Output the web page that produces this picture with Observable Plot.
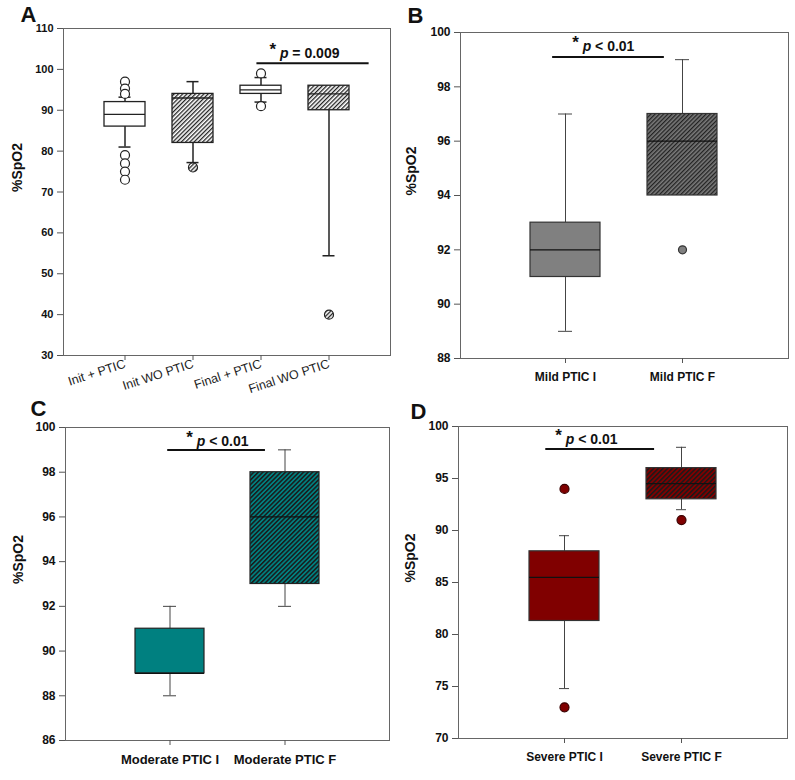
<!DOCTYPE html>
<html><head><meta charset="utf-8">
<script src="https://cdn.jsdelivr.net/npm/d3@7"></script>
<script src="https://cdn.jsdelivr.net/npm/@observablehq/plot@0.6"></script>
<style>
body{margin:0;background:#fff;}
#wrap{position:relative;width:795px;height:780px;background:#fff;}
#wrap svg{position:absolute;overflow:visible;}
</style></head><body><div id="wrap"></div>
<script>
// ---------- DATA ----------
// Panel A
const catsA = ["Init + PTIC", "Init WO PTIC", "Final + PTIC", "Final WO PTIC"];
const q1A  = [86, 82, 94, 90];
const medA = [89, 93, 95, 94];
const q3A  = [92, 94, 96, 96];
const loA  = [81, 77.2, 92, 54.4];
const hiA  = [93.2, 97, 98, 96];
const outA = [[97, 95.3, 94, 79, 77, 75, 73], [76], [99, 91], [40]];
const ticksA = [30, 40, 50, 60, 70, 80, 90, 100, 110];
// Panel B
const catsB = ["Mild PTIC I", "Mild PTIC F"];
const q1B  = [91, 94];
const medB = [92, 96];
const q3B  = [93, 97];
const loB  = [89, 94];
const hiB  = [97, 99];
const outB = [[], [92]];
const ticksB = [88, 90, 92, 94, 96, 98, 100];
// Panel C
const catsC = ["Moderate PTIC I", "Moderate PTIC F"];
const q1C  = [89, 93];
const medC = [89, 96];
const q3C  = [91, 98];
const loC  = [88, 92];
const hiC  = [92, 99];
const outC = [[], []];
const ticksC = [86, 88, 90, 92, 94, 96, 98, 100];
// Panel D
const catsD = ["Severe PTIC I", "Severe PTIC F"];
const q1D  = [81.3, 93];
const medD = [85.5, 94.5];
const q3D  = [88, 96];
const loD  = [74.8, 92];
const hiD  = [89.5, 98];
const outD = [[94, 73], [91]];
const ticksD = [70, 75, 80, 85, 90, 95, 100];
// significance annotations
const sigA = {from: "Final + PTIC", to: "Final WO PTIC", y: 101.4, f1: -0.06, f2: 0.59, op: "=", p: "0.009"};
const sigB = {from: "Mild PTIC I", to: "Mild PTIC F", y: 99.08, f1: -0.11, f2: -0.155, op: "<", p: "0.01"};
const sigC = {from: "Moderate PTIC I", to: "Moderate PTIC F", y: 98.97, f1: -0.02, f2: -0.17, op: "<", p: "0.01"};
const sigD = {from: "Severe PTIC I", to: "Severe PTIC F", y: 97.8, f1: -0.16, f2: -0.23, op: "<", p: "0.01"};

// ---------- HELPERS ----------
const FONT = "Arial, 'Liberation Sans', sans-serif";
function rowsOf(cats, q1, med, q3, lo, hi) {
  return cats.map((c, i) => ({c, q1: q1[i], med: med[i], q3: q3[i], lo: lo[i], hi: hi[i]}));
}
function outRows(cats, out) {
  return cats.flatMap((c, i) => out[i].map(v => ({c, v})));
}
function hatchDefs(id, bg, line, size, lw) {
  return () => {
    const d = d3.create("svg:defs");
    const p = d.append("pattern").attr("id", id).attr("patternUnits", "userSpaceOnUse")
      .attr("width", size).attr("height", size).attr("patternTransform", "rotate(45)");
    p.append("rect").attr("width", size).attr("height", size).attr("fill", bg);
    p.append("rect").attr("width", lw).attr("height", size).attr("fill", line);
    return d.node();
  };
}
function sigMark(s, o) {
  return (index, scales) => {
    const x = scales.x, y = scales.y;
    const bw = x.bandwidth ? x.bandwidth() : 0;
    const st = x.step ? x.step() : bw / 0.6;
    const x1 = x(s.from) + bw / 2 + s.f1 * st;
    const x2 = x(s.to) + bw / 2 + s.f2 * st;
    const yy = y(s.y);
    const g = d3.create("svg:g");
    g.append("line").attr("x1", x1).attr("x2", x2).attr("y1", yy).attr("y2", yy)
      .attr("stroke", "#111").attr("stroke-width", 2);
    const t = g.append("text").attr("x", x1 + o.tx).attr("y", yy - o.ty).attr("text-anchor", "start")
      .attr("font-family", FONT).attr("font-weight", "bold").attr("font-size", 14).attr("fill", "#111");
    t.append("tspan").attr("font-size", 17).attr("dy", -3).text("*");
    t.append("tspan").attr("dy", 3).text("\u00a0");
    t.append("tspan").attr("font-style", "italic").text("p");
    t.append("tspan").text(" " + s.op + " " + s.p);
    return g.node();
  };
}

function panel(o) {
  const rows = rowsOf(o.cats, o.q1, o.med, o.q3, o.lo, o.hi);
  const outs = outRows(o.cats, o.out);
  const marks = [
    ...o.defs,
    Plot.frame({stroke: "#666", strokeWidth: 1}),
    Plot.axisY({ticks: o.ticks, tickSize: 6, tickPadding: 4, label: null, tickFormat: d => d,
      fontSize: o.tickFont, fontWeight: "bold", fill: "#111", stroke: "#555"}),
    o.rotate
      ? Plot.axisX({tickSize: 5, tickPadding: 3, tickRotate: o.rotate, label: null, fontSize: 12.5, fill: "#222", stroke: "#555"})
      : Plot.axisX({tickSize: 5, tickPadding: 9, label: null, fontSize: o.xFont, fontWeight: "bold", fill: "#111", stroke: "#555"}),
    Plot.text([o.ylabel], {frameAnchor: "left", rotate: -90, dx: o.ylabDx, fontSize: 14, fontWeight: "bold", fill: "#111"}),
    Plot.text([o.letter], {frameAnchor: "top-left", dx: o.letDx, dy: o.letDy, fontSize: 22, fontWeight: "bold",
      textAnchor: "start", lineAnchor: "bottom", fill: "#111"}),
    // whiskers
    Plot.ruleX(rows.filter(r => r.hi > r.q3), {x: "c", y1: "q3", y2: "hi", stroke: o.whisker, strokeWidth: o.ww}),
    Plot.ruleX(rows.filter(r => r.lo < r.q1), {x: "c", y1: "lo", y2: "q1", stroke: o.whisker, strokeWidth: o.ww}),
    Plot.tickY(rows.filter(r => r.hi > r.q3), {x: "c", y: "hi", stroke: o.whisker, strokeWidth: o.ww, insetLeft: o.cap, insetRight: o.cap}),
    Plot.tickY(rows.filter(r => r.lo < r.q1), {x: "c", y: "lo", stroke: o.whisker, strokeWidth: o.ww, insetLeft: o.cap, insetRight: o.cap}),
    // boxes
    ...rows.map((r, i) => Plot.barY([r], {x: "c", y1: "q1", y2: "q3", fill: o.fills[i], stroke: o.boxStroke, strokeWidth: o.bw})),
    Plot.tickY(rows, {x: "c", y: "med", stroke: o.medStroke || o.boxStroke, strokeWidth: o.bw}),
    // outliers
    ...outs.map(r => Plot.dot([r], {x: "c", y: "v", r: o.r, fill: o.outFill[o.cats.indexOf(r.c)], stroke: o.outStroke, strokeWidth: 1.2})),
    sigMark(o.sig, o.sigOff)
  ];
  const svg = Plot.plot({
    width: o.width, height: 390,
    marginLeft: o.m[0], marginRight: o.m[1], marginTop: o.m[2], marginBottom: o.m[3],
    style: {fontFamily: FONT, background: "transparent", overflow: "visible"},
    x: {type: "band", domain: o.cats, paddingInner: 0.4, paddingOuter: 0.6},
    y: {domain: o.yDomain},
    marks
  });
  svg.style.left = o.left + "px";
  svg.style.top = o.top + "px";
  document.getElementById("wrap").appendChild(svg);
}

panel({
  cats: catsA, q1: q1A, med: medA, q3: q3A, lo: loA, hi: hiA, out: outA, ticks: ticksA, yDomain: [30, 110],
  width: 395, left: 0, top: 0, m: [63, 5, 28, 35], rotate: -18, tickFont: 11, xFont: 12,
  defs: [hatchDefs("hA", "#fff", "#222", 3, 1.3)],
  fills: ["#fff", "url(#hA)", "#fff", "url(#hA)"],
  outFill: ["#fff", "url(#hA)", "#fff", "url(#hA)"], outStroke: "#222", r: 4.5,
  boxStroke: "#222", bw: 1.3, whisker: "#222", ww: 1.5, cap: 14.5,
  ylabel: "%SpO2", ylabDx: -46, letter: "A", letDx: -43, letDy: -7,
  sig: sigA, sigOff: {tx: 13, ty: 5}
});
panel({
  cats: catsB, q1: q1B, med: medB, q3: q3B, lo: loB, hi: hiB, out: outB, ticks: ticksB, yDomain: [88, 100],
  width: 400, left: 395, top: 0, m: [65, 7, 32, 32], tickFont: 12, xFont: 12,
  defs: [hatchDefs("hB", "#7a7a7a", "#222", 3, 1.3)],
  fills: ["#808080", "url(#hB)"],
  outFill: ["#808080", "#808080"], outStroke: "#333", r: 4,
  boxStroke: "#333", medStroke: "#111", bw: 1.2, whisker: "#444", ww: 1, cap: 28,
  ylabel: "%SpO2", ylabDx: -49, letter: "B", letDx: -53, letDy: -10,
  sig: sigB, sigOff: {tx: 20, ty: 6}
});
panel({
  cats: catsC, q1: q1C, med: medC, q3: q3C, lo: loC, hi: hiC, out: outC, ticks: ticksC, yDomain: [86, 100],
  width: 395, left: 0, top: 390, m: [65, 6, 37, 40], tickFont: 12, xFont: 13,
  defs: [hatchDefs("hC", "#008080", "#1a1a1a", 3.2, 1.5)],
  fills: ["#008080", "url(#hC)"],
  outFill: ["#008080", "#008080"], outStroke: "#333", r: 4,
  boxStroke: "#222", medStroke: "#111", bw: 1.2, whisker: "#444", ww: 1, cap: 28,
  ylabel: "%SpO2", ylabDx: -47, letter: "C", letDx: -35, letDy: -12,
  sig: sigC, sigOff: {tx: 19, ty: 4}
});
panel({
  cats: catsD, q1: q1D, med: medD, q3: q3D, lo: loD, hi: hiD, out: outD, ticks: ticksD, yDomain: [70, 100],
  width: 400, left: 395, top: 390, m: [63, 8, 36, 42], tickFont: 12, xFont: 12,
  defs: [hatchDefs("hD", "#800000", "#1a1a1a", 3.3, 1.5)],
  fills: ["#800000", "url(#hD)"],
  outFill: ["#800000", "#800000"], outStroke: "#3a0000", r: 4.5,
  boxStroke: "#333", medStroke: "#111", bw: 1.2, whisker: "#444", ww: 1, cap: 30,
  ylabel: "%SpO2", ylabDx: -48, letter: "D", letDx: -48, letDy: -8,
  sig: sigD, sigOff: {tx: 10, ty: 5}
});
</script></body></html>
